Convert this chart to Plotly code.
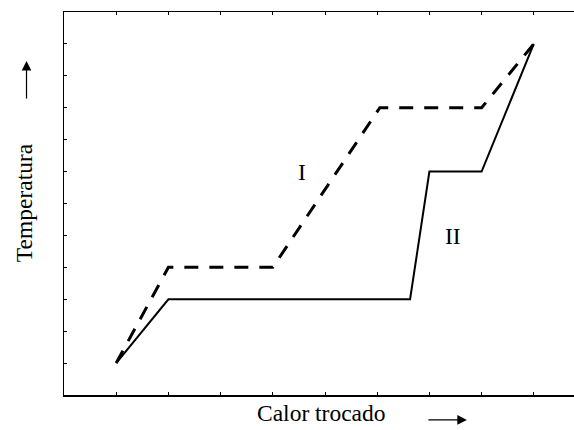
import plotly.graph_objects as go

# Curve I (dashed)
x_I = [1, 2, 4, 6.05, 8, 9]
y_I = [1, 4, 4, 9, 9, 11]
# Curve II (solid)
x_II = [1, 2, 6.63, 7, 8, 9]
y_II = [1, 3, 3, 7, 7, 11]

labels = ["I", "II"]
label_x = [4.55, 7.45]
label_y = [7.0, 4.98]

xtitle = "Calor trocado"
ytitle = "Temperatura"

FONT = "Liberation Serif"
FS = 23.5

fig = go.Figure()
fig.add_trace(go.Scatter(x=x_I, y=y_I, mode="lines",
                         line=dict(color="black", width=3, dash="14px,11px"),
                         showlegend=False, hoverinfo="skip"))
fig.add_trace(go.Scatter(x=x_II, y=y_II, mode="lines",
                         line=dict(color="black", width=2),
                         showlegend=False, hoverinfo="skip"))

for t, lx, ly in zip(labels, label_x, label_y):
    fig.add_annotation(x=lx, y=ly, text=t, showarrow=False,
                       font=dict(family=FONT, size=FS, color="black"))

# axis titles
fig.add_annotation(xref="paper", yref="paper", x=0.504, y=-0.047, text=xtitle,
                   showarrow=False, font=dict(family=FONT, size=FS, color="black"),
                   xanchor="center", yanchor="middle")
fig.add_annotation(xref="paper", yref="paper", x=-0.0784, y=0.501, text=ytitle,
                   textangle=-90, showarrow=False,
                   font=dict(family=FONT, size=FS, color="black"),
                   xanchor="center", yanchor="middle")
# arrows
fig.add_annotation(xref="paper", yref="paper", x=0.790, y=-0.065, text="",
                   showarrow=True, ax=-40, ay=0, arrowhead=2, arrowsize=1.6,
                   arrowwidth=1.2, arrowcolor="black")
fig.add_annotation(xref="paper", yref="paper", x=-0.0735, y=0.872, text="",
                   showarrow=True, ax=0, ay=39, arrowhead=2, arrowsize=1.6,
                   arrowwidth=1.2, arrowcolor="black")

fig.update_xaxes(range=[0, 510 / 52.2], showgrid=False, zeroline=False,
                 showline=True, linecolor="black", linewidth=1.5, mirror="ticks",
                 ticks="inside", ticklen=3, tickcolor="black", tickwidth=1,
                 tickmode="linear", tick0=0, dtick=1, showticklabels=False)
fig.update_yaxes(range=[0, 12], showgrid=False, zeroline=False,
                 showline=True, linecolor="black", linewidth=1.5,
                 ticks="inside", ticklen=3, tickcolor="black", tickwidth=1,
                 tickmode="linear", tick0=0, dtick=1, showticklabels=False)

fig.update_layout(width=574, height=430,
                  margin=dict(l=64, r=0, t=12, b=35),
                  paper_bgcolor="white", plot_bgcolor="white")

fig.write_html("out.html", config={"displayModeBar": False, "staticPlot": True},
               post_script="document.body.style.margin='0';document.body.style.overflow='hidden';")
